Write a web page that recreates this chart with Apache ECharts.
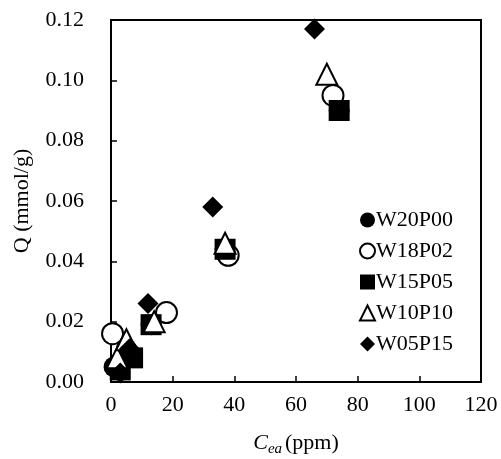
<!DOCTYPE html>
<html>
<head>
<meta charset="utf-8">
<script src="https://cdn.jsdelivr.net/npm/echarts@6/dist/echarts.min.js"></script>
<style>
  html, body { margin: 0; padding: 0; background: #fff; }
  #chart { width: 501px; height: 459px; }
</style>
</head>
<body>
<div id="chart"></div>
<script>
// points: [Cea (ppm), Q (mmol/g)]
const seriesNames = ['W20P00', 'W18P02', 'W15P05', 'W10P10', 'W05P15']
const w20p00 = [[1, 0.005], [5, 0.011], [13, 0.019], [37, 0.044], [74, 0.090]]
const w18p02 = [[0.5, 0.016], [18, 0.023], [38, 0.042], [72, 0.095]]
const w15p05 = [[3, 0.004], [7, 0.008], [13, 0.019], [37, 0.044], [74, 0.090]]
const w10p10 = [[2, 0.008], [5, 0.014], [14, 0.020], [37, 0.046], [70, 0.102]]
const w05p15 = [[3, 0.003], [6, 0.011], [12, 0.026], [33, 0.058], [66, 0.117]]
const xTicks = [0, 20, 40, 60, 80, 100, 120]
const yTicks = [0, 0.02, 0.04, 0.06, 0.08, 0.10, 0.12]

const font = 'Liberation Serif'
const black = '#000'

function makeSeries(name, data, symbol, filled) {
    return {
        name: name,
        type: 'scatter',
        data: data,
        symbol: symbol,
        symbolSize: 21,
        itemStyle: filled
            ? { color: black, opacity: 1 }
            : { color: '#fff', borderColor: black, borderWidth: 2, opacity: 1 }
    }
}

let chart = echarts.init(document.getElementById('chart'))
chart.setOption({
    animation: false,
    grid: {
        left: 111, top: 20, right: 20, bottom: 77,
        outerBoundsMode: 'none',
        containLabel: false,
        show: true, borderColor: black, borderWidth: 2, backgroundColor: 'transparent'
    },
    legend: {
        orient: 'vertical',
        left: 354,
        top: 204,
        itemGap: 9,
        itemWidth: 15,
        itemHeight: 15,
        data: seriesNames,
        textStyle: { fontFamily: font, fontSize: 22, color: black, padding: [0, 0, 0, -4] }
    },
    xAxis: {
        type: 'value',
        min: xTicks[0],
        max: xTicks[xTicks.length - 1],
        interval: 20,
        name: '{i|C}{s|ea}{n|(ppm)}',
        nameLocation: 'middle',
        nameGap: 48,
        nameTextStyle: {
            rich: {
                i: { fontFamily: font, fontSize: 22, fontStyle: 'italic', color: black },
                s: { fontFamily: font, fontSize: 15, fontStyle: 'italic', color: black, verticalAlign: 'bottom', padding: [12, 3, 0, 0] },
                n: { fontFamily: font, fontSize: 22, color: black }
            }
        },
        axisLine: { lineStyle: { color: black, width: 2 } },
        axisTick: { inside: true, length: 6, lineStyle: { color: black, width: 1.5 } },
        axisLabel: { fontFamily: font, fontSize: 22, color: black, margin: 12 },
        splitLine: { show: false }
    },
    yAxis: {
        type: 'value',
        min: yTicks[0],
        max: yTicks[yTicks.length - 1],
        interval: 0.02,
        name: 'Q (mmol/g)',
        nameLocation: 'middle',
        nameGap: 78,
        nameTextStyle: { fontFamily: font, fontSize: 22, color: black },
        axisLine: { lineStyle: { color: black, width: 2 } },
        axisTick: { inside: true, length: 6, lineStyle: { color: black, width: 1.5 } },
        axisLabel: {
            fontFamily: font, fontSize: 22, color: black, margin: 27,
            formatter: v => v.toFixed(2)
        },
        splitLine: { show: false }
    },
    series: [
        makeSeries('W20P00', w20p00, 'circle', true),
        makeSeries('W18P02', w18p02, 'circle', false),
        makeSeries('W15P05', w15p05, 'rect', true),
        makeSeries('W10P10', w10p10, 'triangle', false),
        makeSeries('W05P15', w05p15, 'diamond', true)
    ]
})
</script>
</body>
</html>
